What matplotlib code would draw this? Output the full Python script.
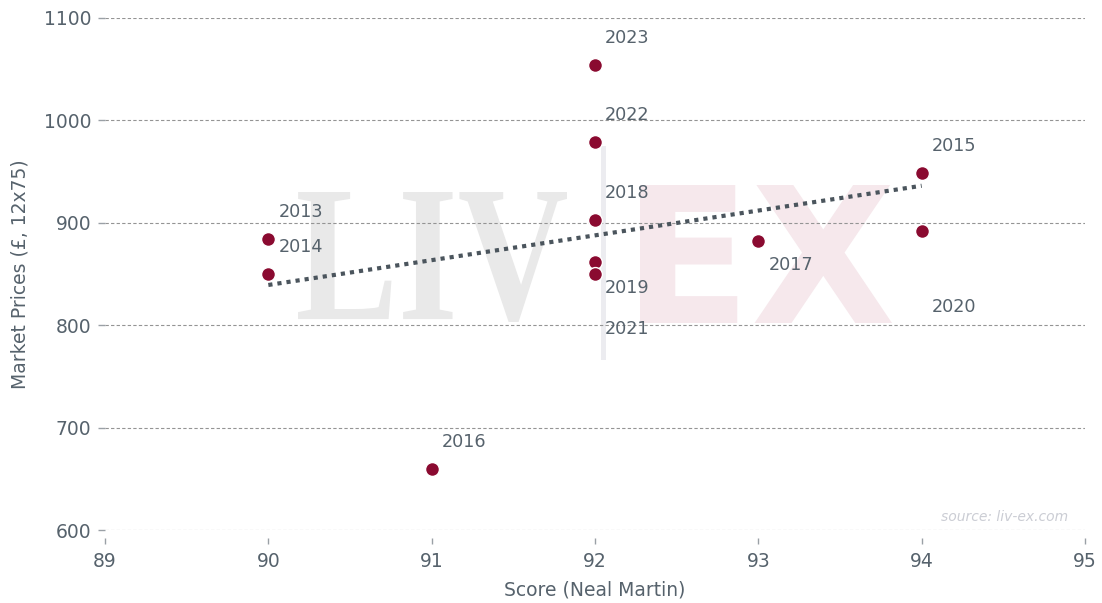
import numpy as np
import matplotlib
matplotlib.use("Agg")
import matplotlib.pyplot as plt
from matplotlib.textpath import TextPath
from matplotlib.patches import PathPatch
from matplotlib.font_manager import FontProperties
from matplotlib.transforms import Affine2D

# Data
years  = ["2013", "2014", "2015", "2016", "2017", "2018", "2019", "2020", "2021", "2022", "2023"]
scores = [90, 90, 94, 91, 93, 92, 92, 94, 92, 92, 92]
prices = [884, 850, 949, 660, 882, 903, 862, 892, 850, 979, 1054]

# label offsets in pixels (dx, dy) relative to each point
label_offsets = {
    "2017": (10, -24), "2019": (10, -26), "2020": (10, -76), "2021": (10, -55),
}
default_offset = (10, 27)

x_ticks = [89, 90, 91, 92, 93, 94, 95]
y_ticks = [600, 700, 800, 900, 1000, 1100]

TEXT = "#56626c"
DOT = "#8a0a30"
W, H = 1102, 603


def watermark(fig, text, box, color, prop):
    """Draw text as a path stretched to fill box (x0, y0, x1, y1 in pixels from top-left)."""
    path = TextPath((0, 0), text, size=100, prop=prop)
    ext = path.get_extents()
    x0, y0, x1, y1 = box
    sx = (x1 - x0) / ext.width / W
    sy = (y1 - y0) / ext.height / H
    tr = (Affine2D().translate(-ext.x0, -ext.y0).scale(sx, sy)
          .translate(x0 / W, 1 - y1 / H) + fig.transFigure)
    fig.add_artist(PathPatch(path, transform=tr, facecolor=color, lw=0, zorder=-1))


fig = plt.figure(figsize=(W / 100, H / 100), dpi=100)
ax = fig.add_axes([105 / W, 1 - 530 / H, 980 / W, 512 / H])

# background logo
watermark(fig, "LIV", (298, 192, 567, 322), "#e9e9e9",
          FontProperties(family="Liberation Serif", weight="bold"))
watermark(fig, "EX", (640, 185, 892, 323), "#f6e8ec",
          FontProperties(family="DejaVu Sans", weight="bold"))
fig.add_artist(plt.Line2D([603 / W, 603 / W], [1 - 357 / H, 1 - 148 / H], color="#ececf0",
                          lw=3.6, transform=fig.transFigure, zorder=-1))

for s in ax.spines.values():
    s.set_visible(False)
ax.spines["bottom"].set_position(("outward", 6))
ax.set_facecolor("none")

ax.set_xlim(89, 95)
ax.set_ylim(600, 1100)
ax.set_xticks(x_ticks)
ax.set_yticks(y_ticks)
ax.grid(axis="y", color="#949494", linestyle=(0, (3, 2)), linewidth=0.8)
ax.set_axisbelow(True)
ax.tick_params(axis="y", length=5, width=1, color="#9aa0a6", pad=5,
               labelsize=13.5, labelcolor=TEXT)
ax.tick_params(axis="x", length=4.5, width=1, color="#9aa0a6", pad=5,
               labelsize=13.5, labelcolor=TEXT)

# trend line (least-squares fit)
slope, intercept = np.polyfit(scores, prices, 1)
xs = np.array([min(scores), max(scores)])
ax.plot(xs, slope * xs + intercept, linestyle=(0, (1, 1.2)), color="#4b555d",
        linewidth=3, zorder=2)

ax.scatter(scores, prices, s=100, color=DOT, edgecolor="white", linewidth=1, zorder=3)

for yr, sc, pr in zip(years, scores, prices):
    dx, dy = label_offsets.get(yr, default_offset)
    ax.annotate(yr, (sc, pr), xytext=(dx, dy), textcoords="offset pixels",
                fontsize=12.7, color=TEXT, ha="left", va="center", zorder=4)

ax.set_xlabel("Score (Neal Martin)", fontsize=13.5, color=TEXT, labelpad=7)
ax.set_ylabel("Market Prices (£, 12x75)", fontsize=13.5, color=TEXT, labelpad=10)

fig.text(0.969, 0.142, "source: liv-ex.com", fontsize=10, style="italic",
         color="#cbcdd4", ha="right", va="center")

fig.savefig("out.png", dpi=100)
